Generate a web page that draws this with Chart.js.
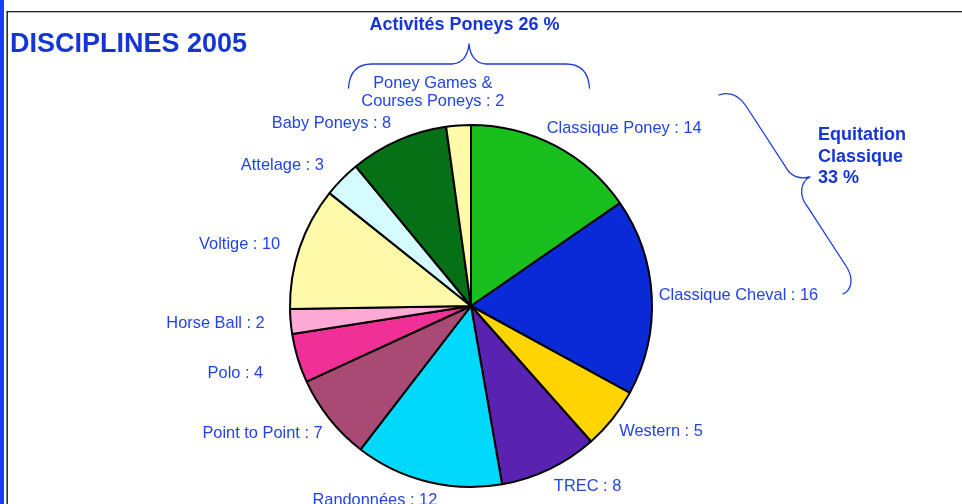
<!DOCTYPE html>
<html>
<head>
<meta charset="utf-8">
<script src="https://cdn.jsdelivr.net/npm/chart.js@4/dist/chart.umd.min.js"></script>
<style>
  html, body { margin: 0; padding: 0; background: #fff; }
  #c { display: block; }
</style>
</head>
<body>
<canvas id="c" width="962" height="504"></canvas>
<script>
// ---- data ----
const categories = [
  "Classique Poney", "Classique Cheval", "Western", "TREC", "Randonnées",
  "Point to Point", "Polo", "Horse Ball", "Voltige", "Attelage",
  "Baby Poneys", "Poney Games &\nCourses Poneys"
];
const values = [14, 16, 5, 8, 12, 7, 4, 2, 10, 3, 8, 2];
const sliceColors = [
  "#19bf1c", "#0a2ad8", "#ffd400", "#5a22b0", "#00d8fc", "#a84a74",
  "#f03096", "#ffaad6", "#fff9aa", "#d4fcff", "#067016", "#fff9aa"
];
const chartTitle = "DISCIPLINES 2005";
const groupTop = "Activités Poneys 26 %";
const groupRight = ["Equitation", "Classique", "33 %"];

// label placement tweaks (dx, dy) relative to the arc-based anchor
const labelNudge = [
  [-13, -1], [-3, -0.5], [-1, 1.5], [0, 1], [12, 1], [1, 3.5],
  [-25, 9.5], [-16, 0.5], [-10, 2.5], [-11, -1.5], [-3, -0.5], [-25, -5]
];

const LABEL_COLOR = "#2244e6";
const BOLD_COLOR = "#1535d5";
const FONT = "'Liberation Sans', Arial, sans-serif";

const decoPlugin = {
  id: "deco",
  beforeDraw(chart) {
    const ctx = chart.ctx;
    ctx.save();
    ctx.fillStyle = "#fff";
    ctx.fillRect(0, 0, chart.width, chart.height);
    // blue side bar
    ctx.fillStyle = "#1a3cff";
    ctx.fillRect(0, 0, 4, chart.height);
    // frame lines
    ctx.fillStyle = "#222";
    ctx.fillRect(7, 11, chart.width - 7, 1.3);
    ctx.fillStyle = "#000";
    ctx.fillRect(6.5, 11, 1.3, chart.height - 11);
    // title
    ctx.fillStyle = BOLD_COLOR;
    ctx.font = "bold 27px " + FONT;
    ctx.textAlign = "left";
    ctx.textBaseline = "alphabetic";
    ctx.fillText(chartTitle, 10, 52);
    ctx.restore();
  },
  afterDatasetsDraw(chart) {
    const ctx = chart.ctx;
    const meta = chart.getDatasetMeta(0);
    ctx.save();
    ctx.fillStyle = LABEL_COLOR;
    ctx.font = "16.4px " + FONT;
    ctx.textBaseline = "middle";
    const lineH = 18.3;
    meta.data.forEach((arc, i) => {
      const p = arc.getProps(["x", "y", "startAngle", "endAngle", "outerRadius"], true);
      const mid = (p.startAngle + p.endAngle) / 2;
      const c = Math.cos(mid), s = Math.sin(mid);
      const lines = (categories[i] + " : " + values[i]).split("\n");
      const blockH = lines.length === 1 ? 16 : lines.length * lineH;
      const r = p.outerRadius + 10;
      let ax = p.x + r * c + labelNudge[i][0];
      let ay = p.y + r * s + (blockH / 2) * s + labelNudge[i][1];
      ctx.textAlign = c > 0.1 ? "left" : (c < -0.1 ? "right" : "center");
      const y0 = ay - (lines.length - 1) * lineH / 2;
      lines.forEach((t, k) => ctx.fillText(t, ax, y0 + k * lineH));
    });

    // group annotations
    ctx.fillStyle = BOLD_COLOR;
    ctx.font = "bold 18px " + FONT;
    ctx.textBaseline = "alphabetic";
    ctx.textAlign = "center";
    ctx.fillText(groupTop, 464.5, 29.5);
    ctx.textAlign = "left";
    groupRight.forEach((t, k) => ctx.fillText(t, 818, 140 + k * 21.7));

    // braces
    ctx.strokeStyle = "#1e3cd8";
    ctx.lineWidth = 1.3;
    ctx.lineCap = "round";
    ctx.beginPath();
    ctx.moveTo(348.5, 88);
    ctx.quadraticCurveTo(350, 64, 372, 64);
    ctx.lineTo(452, 64);
    ctx.quadraticCurveTo(467, 63, 469, 44);
    ctx.moveTo(469, 44);
    ctx.quadraticCurveTo(471, 63, 486, 64);
    ctx.lineTo(566, 64);
    ctx.quadraticCurveTo(588, 64, 589.5, 88);
    ctx.stroke();

    ctx.beginPath();
    ctx.moveTo(719, 95);
    ctx.bezierCurveTo(731, 91, 740, 97, 746, 106);
    ctx.lineTo(789, 172);
    ctx.quadraticCurveTo(797, 180, 810, 177);
    ctx.moveTo(810, 177);
    ctx.bezierCurveTo(800, 182, 799, 196, 807, 206);
    ctx.lineTo(846, 266);
    ctx.bezierCurveTo(854, 278, 852, 290, 843, 294);
    ctx.stroke();
    ctx.restore();
  }
};

new Chart(document.getElementById("c"), {
  type: "pie",
  data: {
    labels: categories,
    datasets: [{
      data: values,
      backgroundColor: sliceColors,
      borderColor: "#000",
      borderWidth: 2
    }]
  },
  options: {
    responsive: false,
    animation: false,
    radius: 181,
    layout: { padding: { left: 0, right: 20, top: 120, bottom: 12 } },
    plugins: {
      legend: { display: false },
      tooltip: { enabled: false },
      title: { display: false }
    }
  },
  plugins: [decoPlugin]
});
</script>
</body>
</html>
